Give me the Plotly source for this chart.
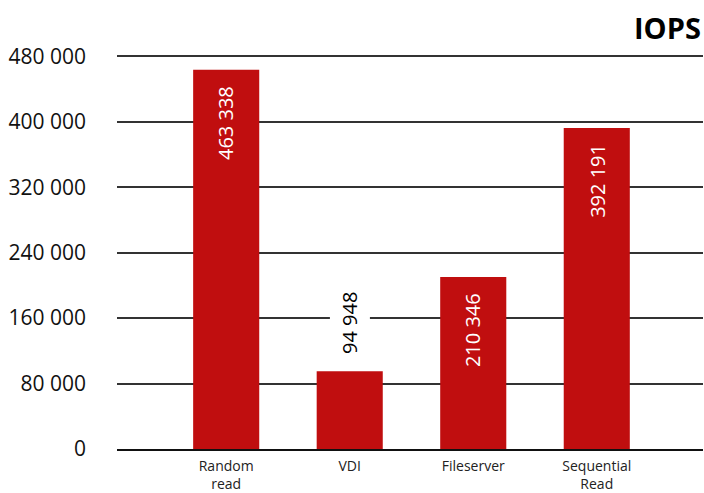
import plotly.graph_objects as go

categories = ["Random<br>read", "VDI", "Fileserver", "Sequential<br>Read"]
iops = [463338, 94948, 210346, 392191]
label_text = ["463 338", "94 948", "210 346", "392 191"]
label_inside = [True, False, True, True]
y_ticks = [0, 80000, 160000, 240000, 320000, 400000, 480000]

RED = "#C00E0F"
FONT = "Open Sans"

fig = go.Figure()
fig.add_trace(go.Bar(
    x=list(range(len(categories))), y=iops,
    marker=dict(color=RED, line=dict(width=0)),
    width=0.535, hoverinfo="skip",
))

for i, (v, t, inside) in enumerate(zip(iops, label_text, label_inside)):
    if inside:
        fig.add_annotation(x=i, y=v, text=t, textangle=-90, showarrow=False,
                           yanchor="top", yshift=-14,
                           font=dict(family=FONT, size=20, color="white"))
    else:
        fig.add_annotation(x=i, y=v, text=t, textangle=-90, showarrow=False,
                           yanchor="bottom", yshift=10, bgcolor="white",
                           borderpad=6,
                           font=dict(family=FONT, size=20, color="black"))

fig.add_annotation(xref="paper", yref="paper", x=1, y=1, xanchor="right",
                   yanchor="middle", yshift=28, text="<b>IOPS</b>", showarrow=False,
                   font=dict(family=FONT, size=29, color="black"))

fig.update_layout(
    width=704, height=493,
    margin=dict(l=117, r=1, t=55, b=44),
    paper_bgcolor="white", plot_bgcolor="white",
    separators=". ",
    showlegend=False,
    font=dict(family=FONT, color="black"),
    bargap=0.4,
)
fig.update_xaxes(
    range=[-0.884, 3.86],
    tickmode="array", tickvals=list(range(len(categories))), ticktext=categories,
    tickfont=dict(family=FONT, size=14, color="#222"),
    showgrid=False, zeroline=False,
    showline=True, linecolor="#111", linewidth=2,
    ticks="", ticklabelstandoff=3, automargin=False,
)
fig.update_yaxes(
    range=[0, 481500],
    tickmode="array", tickvals=y_ticks,
    tickformat=",d",
    tickfont=dict(family=FONT, size=21, color="#111"),
    showgrid=True, gridcolor="#333", gridwidth=1.5,
    zeroline=False, showline=False, ticks="",
    ticklabelstandoff=30, automargin=False,
)

fig.write_html("out.html", config={"displayModeBar": False},
               post_script="document.body.style.margin='0';document.body.style.padding='0';")
